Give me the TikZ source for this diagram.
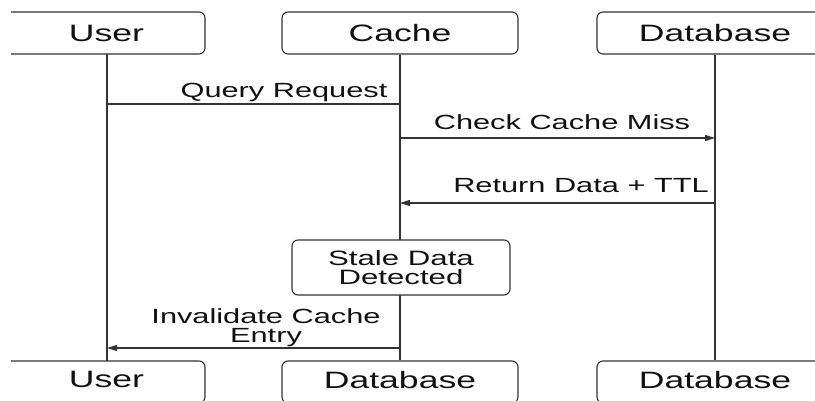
\documentclass[tikz,border=0pt]{standalone}
\usepackage{fontspec}
\setmainfont{Liberation Sans}[FakeStretch=1.5]
\usetikzlibrary{arrows.meta}
\definecolor{ln}{HTML}{333333}
\definecolor{tx}{HTML}{111111}
\begin{document}
\begin{tikzpicture}[x=1pt,y=-1pt,
  actor/.style={draw=ln,line width=1.1pt,rounded corners=6pt,fill=white,minimum width=236pt,minimum height=42pt,inner sep=0pt,text=tx,font=\fontsize{23.7}{28}\selectfont},
  useractor/.style={actor,minimum width=200pt},
  note/.style={draw=ln,line width=1.1pt,rounded corners=6pt,fill=white,minimum width=218pt,minimum height=55pt,inner sep=0pt,align=center,text=tx,font=\fontsize{20.8}{19}\selectfont},
  life/.style={draw=ln,line width=1.1pt},
  msg/.style={draw=ln,line width=1.1pt},
  arr/.style={msg,-{Triangle[length=10pt,width=6pt]}},
  lbl/.style={inner sep=0pt,text=tx,font=\fontsize{20.5}{18.5}\selectfont,align=center}
]
\path[use as bounding box] (0,0) rectangle (815,401);
\clip (11,0) rectangle (815,401);
% top actors
\node[useractor] (uT) at (105,33) {\hspace*{3pt}User};
\node[actor] (cT) at (400,33) {Cache};
\node[actor] (dT) at (715,33) {Database};
% bottom actors
\node[useractor] (uB) at (105,382) {\hspace*{3pt}\raisebox{5pt}{User}};
\node[actor] (cB) at (400,382) {\raisebox{5pt}{Database}};
\node[actor] (dB) at (715,382) {\raisebox{5pt}{Database}};
% lifeline anchor points
\coordinate (uTs) at (107,54);
\coordinate (uBn) at (107,361);
% lifelines
\draw[life] (uTs) -- (uBn);
\draw[life] (cT.south) -- (cB.north);
\draw[life] (dT.south) -- (dB.north);
% message points
\coordinate (u1) at (107,104);
\coordinate (c1) at (400,104);
\coordinate (c2) at (400,138);
\coordinate (d2) at (715,138);
\coordinate (d3) at (715,203);
\coordinate (c3) at (400,203);
\coordinate (c4) at (400,348);
\coordinate (u4) at (107,348);
% messages
\draw[msg] (u1) -- (c1);
\draw[arr] (c2) -- (d2);
\draw[arr] (d3) -- (c3);
\draw[arr] (c4) -- (u4);
% labels
\node[lbl,anchor=base] (l1) at (284,98) {Query Request};
\node[lbl,anchor=base] (l2) at (562,130) {Check Cache Miss};
\node[lbl,anchor=base] (l3) at (581,193) {Return Data + TTL};
\node[lbl] (l4) at (266,327.7) {Invalidate Cache\\Entry};
% note
\node[note] (stale) at (401,267.5) {Stale Data\\Detected};
\end{tikzpicture}
\end{document}
